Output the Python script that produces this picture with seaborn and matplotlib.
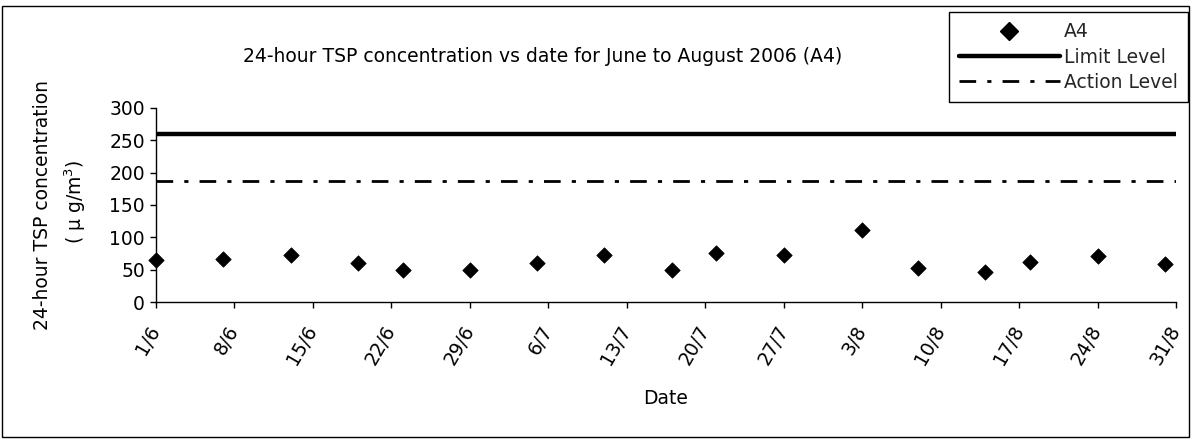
import matplotlib
matplotlib.use("Agg")
import matplotlib.pyplot as plt
import seaborn as sns
import pandas as pd
from matplotlib.patches import Rectangle
from matplotlib.lines import Line2D

# ---- data ----
sample_dates = ["1/6", "7/6", "13/6", "19/6", "23/6", "29/6", "5/7", "11/7", "17/7",
                "21/7", "27/7", "3/8", "8/8", "14/8", "18/8", "24/8", "30/8"]
tsp_values = [65, 67, 72, 60, 50, 50, 60, 72, 49, 76, 73, 112, 53, 47, 62, 71, 59]
limit_level = 260
action_level = 187
axis_start = "1/6"
axis_end = "31/8"
y_ticks = [0, 50, 100, 150, 200, 250, 300]
year = 2006

title = "24-hour TSP concentration vs date for June to August 2006 (A4)"
ylabel_line1 = "24-hour TSP concentration"
ylabel_line2 = "( \u03bc g/m$^3$)"
xlabel = "Date"
series_label = "A4"
limit_label = "Limit Level"
action_label = "Action Level"

W, H = 1196, 440
FS = 13.5
ACTION_STYLE = (0, (6, 4, 1.5, 4))


def to_date(s):
    d, m = s.split("/")
    return pd.Timestamp(year, int(m), int(d))


df = pd.DataFrame({"Date": [to_date(s) for s in sample_dates], "TSP": tsp_values})
x0, x1 = to_date(axis_start), to_date(axis_end)
limit_df = pd.DataFrame({"Date": [x0, x1], "TSP": [limit_level, limit_level]})
action_df = pd.DataFrame({"Date": [x0, x1], "TSP": [action_level, action_level]})

sns.set_theme(style="white")
plt.rcParams["font.family"] = ["DejaVu Sans"]
plt.rcParams["mathtext.fontset"] = "dejavusans"

fig = plt.figure(figsize=(W / 100, H / 100), dpi=100)
ax = fig.add_axes([156 / W, 1 - 302 / H, 1020 / W, 194 / H])

sns.lineplot(data=limit_df, x="Date", y="TSP", color="black", lw=3.2, ax=ax,
             legend=False)
sns.lineplot(data=action_df, x="Date", y="TSP", color="black", lw=2.0, ax=ax,
             legend=False, linestyle=ACTION_STYLE)
sns.scatterplot(data=df, x="Date", y="TSP", marker="D", s=62, color="black",
                edgecolor="black", linewidth=0.5, ax=ax, legend=False, zorder=5,
                clip_on=False)

ax.set_xlim(x0, x1)
ax.set_ylim(y_ticks[0], y_ticks[-1])
ax.set_yticks(y_ticks)
tick_dates = pd.date_range(x0, x1, freq="7D")
ax.set_xticks(tick_dates)
ax.set_xticklabels([f"{d.day}/{d.month}" for d in tick_dates], rotation=60,
                   ha="right", va="center", rotation_mode="anchor")

for side in ["top", "right"]:
    ax.spines[side].set_visible(False)
for side in ["left", "bottom"]:
    ax.spines[side].set_color("black")
    ax.spines[side].set_linewidth(1.0)

ax.tick_params(axis="both", direction="out", length=4, width=1, color="black",
               labelcolor="black", labelsize=FS, left=True, bottom=True)
ax.tick_params(axis="x", pad=14)
ax.tick_params(axis="y", pad=4)

ax.set_ylabel("")
ax.set_xlabel(xlabel, fontsize=FS, color="black", va="center")
ax.xaxis.set_label_coords(0.5, (302 - 398) / 194)

fig.text(43 / W, 1 - 205 / H, ylabel_line1, rotation=90, ha="center", va="center",
         fontsize=FS, color="black")
fig.text(75 / W, 1 - 202 / H, ylabel_line2, rotation=90, ha="center", va="center",
         fontsize=FS, color="black")
fig.text(243 / W, 1 - 57 / H, title, ha="left", va="center", fontsize=FS,
         color="black")

handles = [
    Line2D([], [], marker="D", color="black", linestyle="none", markersize=9),
    Line2D([], [], color="black", lw=3.2),
    Line2D([], [], color="black", lw=2.0, linestyle=ACTION_STYLE),
]
leg = fig.legend(handles, [series_label, limit_label, action_label],
                 loc="upper right", bbox_to_anchor=(1188 / W, 1 - 12 / H),
                 fontsize=FS, frameon=True, fancybox=False, edgecolor="black",
                 framealpha=1, borderpad=0.55, handlelength=5.4,
                 handletextpad=0.2, labelspacing=0.34, borderaxespad=0)
leg.get_frame().set_linewidth(1.0)

fig.patches.append(Rectangle((2 / W, 3 / H), 1187 / W, 431 / H,
                             transform=fig.transFigure, fill=False,
                             edgecolor="black", lw=1.0))

fig.savefig("out.png", dpi=100, facecolor="white")
